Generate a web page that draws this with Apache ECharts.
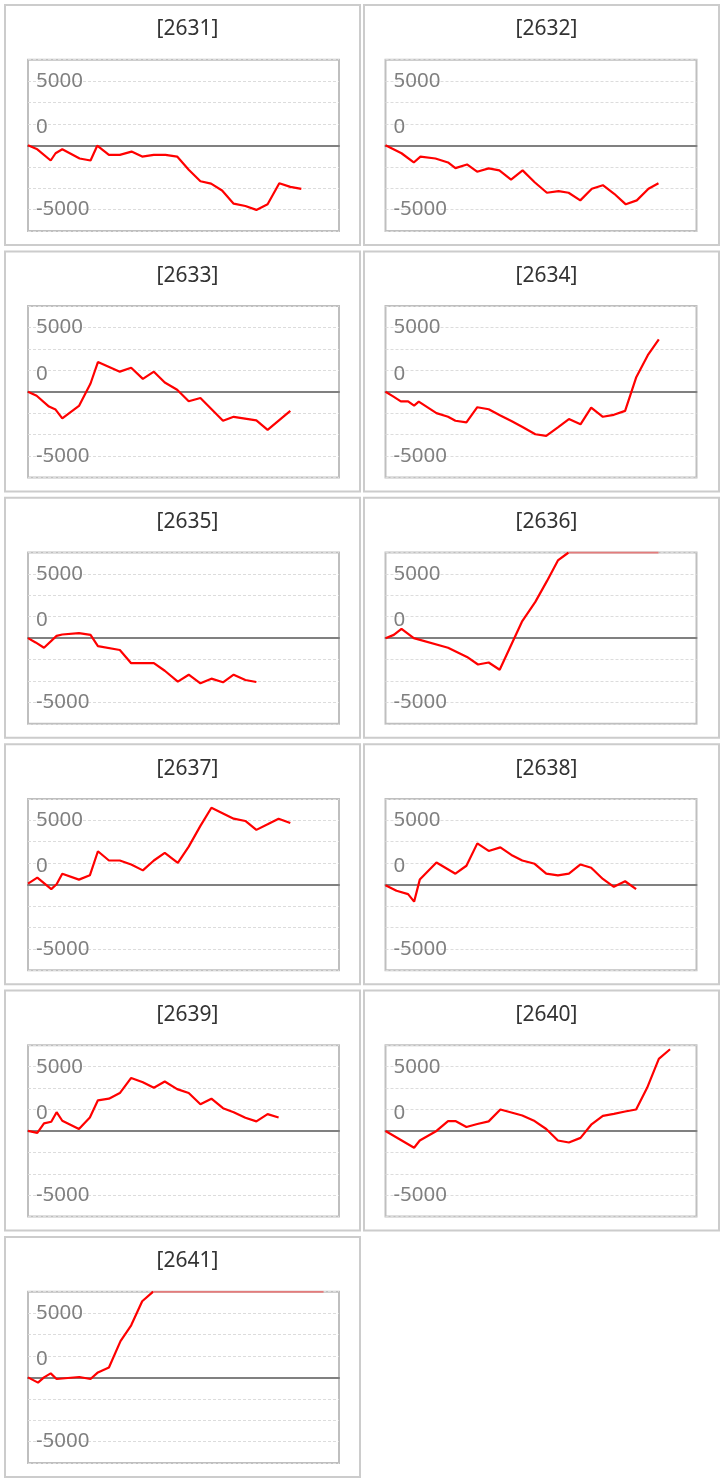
<!DOCTYPE html>
<html>
<head>
<meta charset="utf-8">
<script src="https://cdn.jsdelivr.net/npm/echarts@6/dist/echarts.min.js"></script>
<style>
html,body{margin:0;padding:0;background:#fff;}
#chart{width:723px;height:1482px;}
</style>
</head>
<body>
<div id="chart"></div>
<script>
// ---- data ----
const panelIds = ['[2631]','[2632]','[2633]','[2634]','[2635]','[2636]','[2637]','[2638]','[2639]','[2640]','[2641]'];
// y tick labels, one per tick from min to max (min -6666.67, step 1666.67)
const yTickLabels = ['', '-5000', '', '', '', '0', '', '5000', ''];

const s2631 = [[0,0],[0.82,-308],[2.0,-1180],[2.43,-615],[3.02,-308],[4.55,-1026],[5.51,-1180],[6.1,-26],[7.13,-744],[8.09,-744],[9.12,-487],[10.06,-872],[11.08,-744],[12.11,-744],[13.14,-872],[14.16,-1897],[15.19,-2795],[16.13,-2974],[17.1,-3513],[18.12,-4538],[19.15,-4718],[20.12,-5025],[21.11,-4590],[22.14,-2949],[23.11,-3231],[24.08,-3384]];
const s2632 = [[0,0],[1.41,-615],[2.49,-1333],[3.08,-872],[4.4,-1026],[5.51,-1333],[6.16,-1769],[7.18,-1487],[8.07,-2051],[9.09,-1795],[10.03,-1949],[11.06,-2667],[12.08,-1949],[13.14,-2872],[14.22,-3692],[15.25,-3564],[16.13,-3692],[17.16,-4282],[18.18,-3384],[19.15,-3102],[20.15,-3769],[21.17,-4590],[22.14,-4282],[23.17,-3384],[24.05,-2949]];
const s2633 = [[0,0],[0.76,-308],[1.85,-1154],[2.43,-1385],[3.02,-2077],[4.49,-1103],[5.51,641],[6.16,2308],[8.09,1564],[9.09,1872],[10.12,1000],[11.09,1564],[12.05,718],[13.14,154],[14.16,-744],[15.19,-487],[17.18,-2256],[18.12,-1949],[20.12,-2231],[21.11,-2974],[23.11,-1487]];
const s2634 = [[0,0],[0.67,-359],[1.35,-744],[1.99,-744],[2.52,-1077],[2.93,-769],[4.49,-1667],[5.51,-1949],[6.16,-2256],[7.13,-2385],[8.09,-1205],[9.09,-1359],[10.12,-1846],[11.09,-2282],[12.11,-2769],[13.2,-3308],[14.16,-3436],[15.19,-2769],[16.16,-2128],[17.18,-2538],[18.12,-1231],[19.15,-1949],[20.12,-1795],[21.11,-1487],[22.08,1103],[23.11,2846],[24.08,4077]];
const s2635 = [[0,0],[0.67,-333],[1.41,-744],[2.52,179],[3.02,282],[4.49,385],[5.51,256],[6.16,-615],[8.09,-923],[9.09,-1949],[11.09,-1949],[12.05,-2538],[13.2,-3385],[14.16,-2846],[15.19,-3513],[16.16,-3154],[17.18,-3436],[18.12,-2846],[19.15,-3256],[20.12,-3410]];
const s2636 = [[0,0],[0.73,256],[1.41,718],[2.49,0],[5.51,-744],[7.18,-1462],[8.15,-2051],[9.09,-1897],[10.06,-2462],[12.02,1282],[13.2,2821],[14.22,4436],[15.19,6051],[16.13,6667],[24.05,6667]];
const s2637 = [[0,77],[0.82,538],[2.05,-359],[2.52,26],[3.02,846],[4.49,385],[5.45,718],[6.16,2590],[7.13,1872],[8.09,1872],[9.09,1564],[10.12,1103],[11.09,1872],[12.05,2461],[13.2,1692],[14.16,2949],[15.19,4564],[16.16,5974],[17.18,5538],[18.12,5128],[19.15,4949],[20.12,4256],[21.11,4692],[22.08,5128],[23.11,4795]];
const s2638 = [[0,-51],[0.97,-487],[1.99,-744],[2.52,-1333],[3.02,385],[4.49,1718],[6.16,846],[7.13,1462],[8.09,3205],[9.09,2615],[10.12,2897],[11.09,2308],[12.05,1872],[13.14,1615],[14.16,846],[15.19,718],[16.16,846],[17.18,1564],[18.12,1308],[19.15,436],[20.12,-179],[21.11,256],[22.08,-359]];
const s2639 = [[0,0],[0.82,-154],[1.41,590],[2.05,718],[2.52,1462],[3.02,795],[4.49,154],[5.45,1051],[6.16,2385],[7.13,2513],[8.09,2949],[9.09,4128],[10.12,3795],[11.09,3359],[12.05,3846],[13.14,3256],[14.16,2949],[15.19,2077],[16.16,2513],[17.18,1769],[18.12,1462],[19.15,1026],[20.12,744],[21.11,1308],[22.08,1051]];
const s2640 = [[0,0],[2.52,-1308],[3.02,-744],[4.49,0],[5.51,769],[6.16,769],[7.13,308],[8.09,538],[9.09,744],[10.12,1667],[11.09,1436],[12.05,1205],[13.14,769],[14.16,154],[15.19,-744],[16.16,-897],[17.18,-538],[18.12,487],[19.15,1179],[20.12,1333],[21.11,1513],[22.08,1667],[23.05,3359],[24.08,5615],[25.07,6359]];
const s2641 = [[0,0],[0.88,-410],[1.41,0],[2.0,308],[2.52,-128],[4.52,26],[5.51,-128],[6.16,385],[7.13,769],[8.15,2821],[9.09,4051],[10.06,5923],[11.03,6667],[26.04,6667]];

const seriesData = [s2631,s2632,s2633,s2634,s2635,s2636,s2637,s2638,s2639,s2640,s2641];

// ---- layout ----
const colLeft = [5, 364];
const plotLeft = [28, 385.5];
const panelW = 355, panelH = 240, rowPitch = 246.4, panelTop0 = 5;
const plotTopOff = 54.7, plotW = 311, plotH = 171.3;
const yMin = -20000/3, yMax = 20000/3, yStep = 5000/3;
const xMax = 27.4;
const fontFam = '"Noto Sans", "Open Sans", sans-serif';

const grids = [], xAxes = [], yAxes = [], series = [], titles = [], graphics = [];
panelIds.forEach((id, i) => {
  const col = i % 2, row = Math.floor(i / 2);
  const pTop = panelTop0 + row * rowPitch;
  graphics.push({
    type: 'rect', z: -10, silent: true,
    shape: {x: colLeft[col], y: pTop, width: panelW, height: panelH},
    style: {fill: 'none', stroke: '#cccccc', lineWidth: 2}
  });
  titles.push({
    text: id, left: colLeft[col] + panelW / 2, top: pTop + 9, textAlign: 'center',
    textStyle: {fontFamily: fontFam, fontSize: 21, fontWeight: 'normal', color: '#333333'}
  });
  grids.push({
    left: plotLeft[col], top: pTop + plotTopOff, width: plotW, height: plotH,
    show: true, borderColor: '#bfbfbf', borderWidth: 2, backgroundColor: 'transparent'
  });
  xAxes.push({
    type: 'value', gridIndex: i, min: 0, max: xMax,
    axisLine: {show: true, onZero: true, lineStyle: {color: '#808080', width: 2}},
    axisTick: {show: false}, axisLabel: {show: false}, splitLine: {show: false}
  });
  yAxes.push({
    type: 'value', gridIndex: i, min: yMin, max: yMax, interval: yStep,
    axisLine: {show: false}, axisTick: {show: false},
    axisLabel: {
      inside: true, margin: 8, color: '#808080', fontSize: 20.5, fontFamily: fontFam,
      formatter: (v) => {
        const t = yTickLabels[Math.round((v - yMin) / yStep)] || '';
        return t === '0' ? '{low|0}' : t;
      },
      rich: {low: {fontSize: 20.5, fontFamily: fontFam, color: '#808080', padding: [7, 0, 0, 0]}}
    },
    splitLine: {show: true, lineStyle: {color: '#dcdcdc', width: 1, type: [3, 2]}}
  });
  const data = seriesData[i];
  // points up to and including the first one that sits on the top edge
  const firstTop = data.findIndex(p => p[1] >= 6667);
  const main = firstTop < 0 ? data : data.slice(0, firstTop + 1);
  series.push({
    type: 'line', xAxisIndex: i, yAxisIndex: i, data: main,
    showSymbol: false, symbol: 'none', lineStyle: {width: 2.2, color: '#ff0000'},
    itemStyle: {color: '#ff0000'}, animation: false, z: 3
  });
  if (firstTop >= 0) {
    // segment that runs along the top edge (clipped values)
    series.push({
      type: 'line', xAxisIndex: i, yAxisIndex: i, data: data.slice(firstTop),
      showSymbol: false, symbol: 'none', lineStyle: {width: 2, color: '#e47c7c'},
      itemStyle: {color: '#e47c7c'}, animation: false, z: 3
    });
  }
});

const chart = echarts.init(document.getElementById('chart'), null, {renderer: 'canvas'});
chart.setOption({
  backgroundColor: '#ffffff',
  animation: false,
  title: titles,
  grid: grids,
  xAxis: xAxes,
  yAxis: yAxes,
  series: series,
  graphic: graphics
});
</script>
</body>
</html>
